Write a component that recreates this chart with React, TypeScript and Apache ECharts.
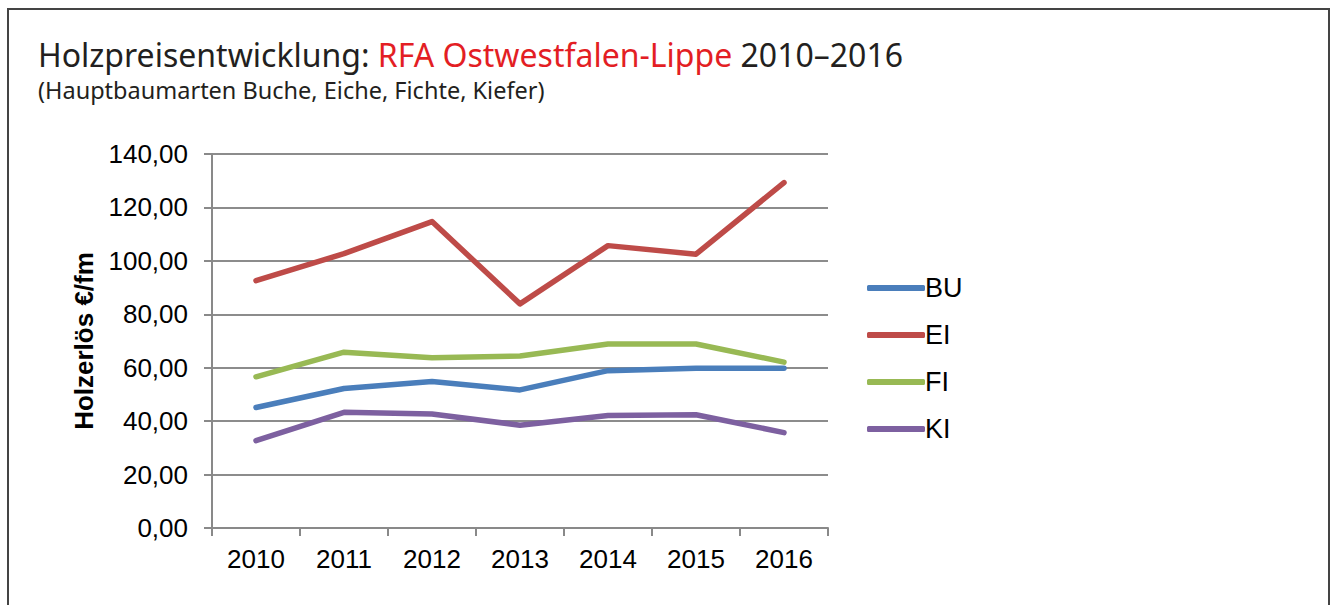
import React, { useEffect, useRef } from "react";
import * as echarts from "echarts";

const years = ["2010", "2011", "2012", "2013", "2014", "2015", "2016"];
const BU = [45.1, 52.2, 54.8, 51.7, 58.9, 59.8, 59.8];
const EI = [92.6, 102.7, 114.7, 83.9, 105.7, 102.5, 129.3];
const FI = [56.6, 65.8, 63.7, 64.4, 68.9, 68.9, 62.1];
const KI = [32.7, 43.3, 42.7, 38.5, 42.1, 42.4, 35.7];
const seriesNames = ["BU", "EI", "FI", "KI"];
const seriesColors = ["#4a7ebb", "#be4b48", "#98b954", "#7d60a0"];

export default function App() {
  const ref = useRef<HTMLDivElement>(null);
  useEffect(() => {
    const chart = echarts.init(ref.current!, null, { renderer: "svg" });
    const data = [BU, EI, FI, KI];
    const axisFont = "'Liberation Sans', Arial, sans-serif";
    chart.setOption({
      animation: false,
      backgroundColor: "#ffffff",
      title: {
        left: 33,
        top: 33,
        text: "{a|Holzpreisentwicklung: }{b|RFA Ostwestfalen-Lippe}{a| 2010–2016}",
        subtext: "(Hauptbaumarten Buche, Eiche, Fichte, Kiefer)",
        itemGap: 8,
        textStyle: {
          rich: {
            a: { fontFamily: "'Noto Sans', sans-serif", fontSize: 32, color: "#231f20", fontWeight: "normal" },
            b: { fontFamily: "'Noto Sans', sans-serif", fontSize: 32, color: "#e31e24", fontWeight: "normal" },
          },
        },
        subtextStyle: {
          fontFamily: "'Noto Sans', sans-serif",
          fontSize: 23.5,
          color: "#231f20",
        },
      },
      graphic: [
        {
          type: "polyline",
          shape: { points: [[8, 605], [8, 9], [1329, 9], [1329, 605]] },
          style: { stroke: "#444444", lineWidth: 2, fill: "none" },
          z: 100,
        },
      ],
      legend: {
        orient: "vertical",
        left: 862,
        top: 268,
        itemWidth: 58,
        itemHeight: 6,
        itemGap: 17,
        icon: "roundRect",
        data: seriesNames,
        textStyle: {
          fontFamily: axisFont,
          fontSize: 27,
          color: "#000",
          lineHeight: 30,
          padding: [0, 0, 0, -5],
        },
      },
      grid: { left: 212, right: 508, top: 154, bottom: 77 },
      xAxis: {
        type: "category",
        data: years,
        boundaryGap: true,
        axisLine: { lineStyle: { color: "#898989", width: 2 } },
        axisTick: { show: true, length: 8, lineStyle: { color: "#898989", width: 2 } },
        axisLabel: { fontFamily: axisFont, fontSize: 26, color: "#000", margin: 18 },
      },
      yAxis: {
        type: "value",
        min: 0,
        max: 140,
        interval: 20,
        name: "Holzerlös €/fm",
        nameLocation: "middle",
        nameGap: 115,
        nameRotate: 90,
        nameTextStyle: { fontFamily: axisFont, fontSize: 26, fontWeight: "bold", color: "#000" },
        axisLine: { show: true, lineStyle: { color: "#898989", width: 2 } },
        axisTick: { show: true, length: 8, lineStyle: { color: "#898989", width: 2 } },
        splitLine: { lineStyle: { color: "#8c8c8c", width: 2 } },
        axisLabel: {
          fontFamily: axisFont,
          fontSize: 26,
          color: "#000",
          margin: 24,
          formatter: (v: number) => v.toFixed(2).replace(".", ","),
        },
      },
      series: seriesNames.map((n, i) => ({
        name: n,
        type: "line",
        data: data[i],
        showSymbol: false,
        symbol: "none",
        color: seriesColors[i],
        lineStyle: { width: 5.5, color: seriesColors[i], cap: "round", join: "round" },
      })),
    });
    return () => chart.dispose();
  }, []);
  return (
    <div
      ref={ref}
      style={{ position: "fixed", left: 0, top: 0, width: 1336, height: 605 }}
    />
  );
}
